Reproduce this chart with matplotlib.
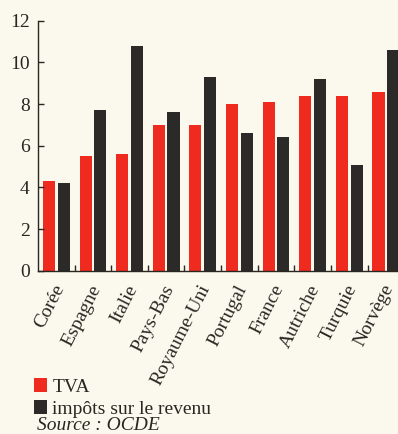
import matplotlib

matplotlib.use("Agg")
import matplotlib.pyplot as plt
import matplotlib.transforms as mtransforms
import numpy as np

countries = ["Corée", "Espagne", "Italie", "Pays-Bas", "Royaume-Uni",
             "Portugal", "France", "Autriche", "Turquie", "Norvège"]
tva = [4.3, 5.5, 5.6, 7.0, 7.0, 8.0, 8.1, 8.4, 8.4, 8.6]
impots = [4.2, 7.7, 10.8, 7.6, 9.3, 6.6, 6.4, 9.2, 5.1, 10.6]
series_labels = ["TVA", "impôts sur le revenu"]

RED = "#ef2b1f"
DARK = "#2b2a28"
PAPER = "#fbf8ee"
INK = "#2a2622"

plt.rcParams.update({
    "font.family": "Liberation Serif",
    "font.size": 14,
})

fig = plt.figure(figsize=(3.98, 4.34), dpi=100, facecolor=PAPER)
ax = fig.add_axes([0.0955, 0.376, 0.92, 0.576], facecolor=PAPER)

x = np.arange(len(countries))
w = 0.33
b1 = ax.bar(x - 0.2, tva, width=w, color=RED, label=series_labels[0])
b2 = ax.bar(x + 0.2, impots, width=w, color=DARK, label=series_labels[1])

ax.set_xlim(-0.5, 9.5)
ax.set_ylim(0, 12)
ax.set_yticks(np.arange(0, 13, 2))
for s in ("top", "right"):
    ax.spines[s].set_visible(False)
for s in ("left", "bottom"):
    ax.spines[s].set_color(INK)
    ax.spines[s].set_linewidth(1.0)

ax.tick_params(axis="y", direction="in", length=4, width=1, color=INK,
               labelcolor=INK, pad=6, labelsize=14)

# group separators sit on the baseline, labels hang under each group
ax.set_xticks(x + 0.5, minor=True)
ax.tick_params(axis="x", which="minor", direction="in", length=4, width=1, color=INK)
ax.set_xticks(x)
ax.set_xticklabels(countries, rotation=63, ha="right", va="top",
                   rotation_mode="anchor", color=INK, fontsize=14)
ax.tick_params(axis="x", which="major", length=0, pad=8)
shift = mtransforms.ScaledTranslation(-4 / 100, 0, fig.dpi_scale_trans)
for lbl in ax.get_xticklabels():
    lbl.set_transform(lbl.get_transform() + shift)

leg = ax.legend(handles=[b1, b2], loc="upper left",
                bbox_to_anchor=(0.085, 0.128), bbox_transform=fig.transFigure,
                frameon=False, handlelength=0.7, handleheight=0.7,
                handletextpad=0.25, labelspacing=0.2, borderpad=0,
                borderaxespad=0, fontsize=14)
for t in leg.get_texts():
    t.set_color(INK)

fig.text(0.092, 0.0, "Source : OCDE", style="italic", fontsize=14,
         color=INK, ha="left", va="bottom")

fig.savefig("out.png", dpi=100, facecolor=PAPER)
